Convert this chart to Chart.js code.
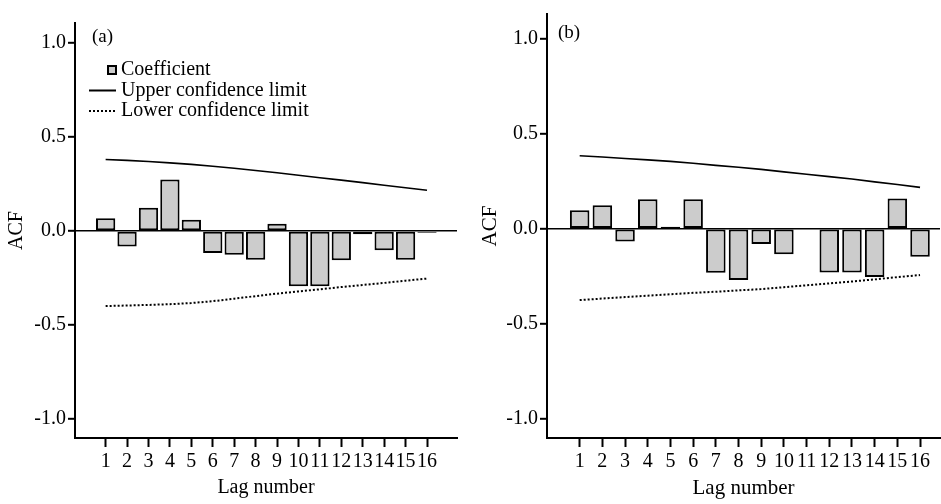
<!DOCTYPE html>
<html>
<head>
<meta charset="utf-8">
<script src="https://cdn.jsdelivr.net/npm/chart.js@4.4.1/dist/chart.umd.min.js"></script>
<style>
  html, body { margin: 0; padding: 0; background: #fff; }
  #wrap { position: relative; width: 941px; height: 504px; overflow: hidden; }
  canvas { position: absolute; top: 0; }
</style>
</head>
<body>
<div id="wrap">
  <canvas id="chartA" width="470" height="504" style="left:0;width:470px;height:504px"></canvas>
  <canvas id="chartB" width="471" height="504" style="left:470px;width:471px;height:504px"></canvas>
</div>
<script>
// ---- data ----
const lags = [1, 2, 3, 4, 5, 6, 7, 8, 9, 10, 11, 12, 13, 14, 15, 16];
const lagLabels = ['1','2','3','4','5','6','7','8','9','10','11','12','13','14','15','16'];
const yTickValues = [-1.0, -0.5, 0.0, 0.5, 1.0];

const acfA   = [0.068, -0.083, 0.124, 0.273, 0.060, -0.117, -0.126, -0.153, 0.039, -0.294, -0.294, -0.156, -0.018, -0.103, -0.153, -0.009];
const upperA = [0.380, 0.375, 0.369, 0.362, 0.354, 0.344, 0.333, 0.321, 0.309, 0.296, 0.283, 0.270, 0.257, 0.243, 0.230, 0.216];
const lowerA = [-0.399, -0.396, -0.393, -0.389, -0.383, -0.373, -0.360, -0.346, -0.333, -0.321, -0.310, -0.298, -0.287, -0.276, -0.264, -0.253];

const acfB   = [0.098, 0.124, -0.067, 0.155, 0.010, 0.155, -0.232, -0.270, -0.080, -0.134, null, -0.230, -0.230, -0.254, 0.160, -0.147];
const upperB = [0.385, 0.378, 0.370, 0.363, 0.355, 0.345, 0.334, 0.324, 0.313, 0.300, 0.287, 0.275, 0.262, 0.247, 0.233, 0.218];
const lowerB = [-0.376, -0.368, -0.360, -0.353, -0.345, -0.338, -0.332, -0.325, -0.318, -0.308, -0.298, -0.288, -0.278, -0.267, -0.255, -0.244];

const seriesNames = ['Coefficient', 'Upper confidence limit', 'Lower confidence limit'];

// ---- helpers ----
const FONT = "'Liberation Serif', 'Times New Roman', serif";

const annotatePlugin = {
  id: 'annotate',
  afterDraw(chart, args, opts) {
    const ctx = chart.ctx;
    ctx.save();
    ctx.fillStyle = '#000';
    ctx.textBaseline = 'middle';
    ctx.textAlign = 'left';
    if (opts.panel) {
      ctx.font = opts.panel.size + 'px ' + FONT;
      ctx.fillText(opts.panel.text, opts.panel.x, opts.panel.y);
    }
    if (opts.legend) {
      const L = opts.legend;
      ctx.font = L.size + 'px ' + FONT;
      const ds = chart.data.datasets;
      L.rows.forEach((row, i) => {
        const d = ds[row.index];
        const y = L.y + i * L.gap;
        if (row.kind === 'box') {
          ctx.fillStyle = d.backgroundColor;
          ctx.fillRect(L.boxX, y - L.box / 2, L.box, L.box);
          ctx.strokeStyle = d.borderColor;
          ctx.lineWidth = 2;
          ctx.strokeRect(L.boxX + 1, y - L.box / 2 + 1, L.box - 2, L.box - 2);
        } else {
          ctx.strokeStyle = d.borderColor;
          ctx.lineWidth = 2;
          ctx.setLineDash(d.borderDash || []);
          ctx.beginPath();
          ctx.moveTo(L.lineX0, y);
          ctx.lineTo(L.lineX1, y);
          ctx.stroke();
          ctx.setLineDash([]);
        }
        ctx.fillStyle = '#000';
        ctx.fillText(d.label, L.textX, y);
      });
    }
    ctx.restore();
  }
};

function makeChart(id, acf, upper, lower, cfg) {
  const pts = arr => lags.map((x, i) => ({ x: x, y: arr[i] }));
  return new Chart(document.getElementById(id), {
    type: 'bar',
    data: {
      datasets: [
        {
          type: 'bar', label: seriesNames[0], data: pts(acf), order: 2,
          backgroundColor: '#cccccc', borderColor: '#000000', borderWidth: 2,
          borderSkipped: false, barPercentage: cfg.barPct, categoryPercentage: 1.0
        },
        {
          type: 'line', label: seriesNames[1], data: pts(upper), order: 1,
          borderColor: '#000000', borderWidth: 1.6, pointRadius: 0, tension: 0, fill: false
        },
        {
          type: 'line', label: seriesNames[2], data: pts(lower), order: 0,
          borderColor: '#000000', borderWidth: 2, borderDash: [2, 2], pointRadius: 0, tension: 0, fill: false
        }
      ]
    },
    options: {
      responsive: false,
      animation: false,
      devicePixelRatio: 1,
      layout: { padding: { left: 0, right: cfg.padRight, top: cfg.padTop, bottom: 0 } },
      plugins: {
        legend: { display: false },
        tooltip: { enabled: false },
        annotate: cfg.annotate
      },
      scales: {
        x: {
          type: 'linear',
          offset: false,
          min: cfg.xMin, max: cfg.xMax,
          afterBuildTicks: s => { s.ticks = lags.map(v => ({ value: v })); },
          afterFit: s => { s.height = 66; },
          ticks: {
            autoSkip: false, maxRotation: 0, minRotation: 0, padding: 3,
            color: '#000', font: { family: FONT, size: cfg.tickSize },
            callback: v => { const i = lags.indexOf(v); return i >= 0 ? lagLabels[i] : ''; }
          },
          grid: {
            offset: false, drawOnChartArea: false, color: 'transparent',
            tickColor: '#000', tickLength: 9, tickWidth: 2
          },
          border: { display: true, color: '#000', width: 2 },
          title: {
            display: true, text: 'Lag number', color: '#000',
            font: { family: FONT, size: cfg.titleSize },
            padding: { top: 0, bottom: cfg.xTitlePad }
          }
        },
        y: {
          type: 'linear',
          min: cfg.yMin, max: cfg.yMax,
          afterBuildTicks: s => { s.ticks = yTickValues.map(v => ({ value: v })); },
          afterFit: s => { s.width = cfg.yWidth; },
          ticks: {
            padding: 2, color: '#000', font: { family: FONT, size: cfg.tickSize },
            callback: v => Number(v).toFixed(1)
          },
          grid: {
            color: c => (c.tick && c.tick.value === 0) ? '#000' : 'transparent',
            lineWidth: 1.6,
            tickColor: '#000', tickLength: 7, tickWidth: 2
          },
          border: { display: true, color: '#000', width: 2 },
          title: {
            display: true, text: 'ACF', color: '#000',
            font: { family: FONT, size: cfg.titleSize },
            padding: { top: cfg.yTitlePad, bottom: 0 }
          }
        }
      }
    },
    plugins: [annotatePlugin]
  });
}

makeChart('chartA', acfA, upperA, lowerA, {
  barPct: 0.9, padRight: 13, padTop: 23,
  xMin: -0.43, xMax: 17.4, yMin: -1.10, yMax: 1.105,
  yWidth: 75, tickSize: 20, titleSize: 20, xTitlePad: 4, yTitlePad: 5,
  annotate: {
    panel: { text: '(a)', x: 92, y: 37, size: 19 },
    legend: {
      size: 20, y: 70, gap: 20.5, box: 10, boxX: 107, lineX0: 89, lineX1: 116, textX: 121,
      rows: [ { index: 0, kind: 'box' }, { index: 1, kind: 'line' }, { index: 2, kind: 'line' } ]
    }
  }
});

makeChart('chartB', acfB, upperB, lowerB, {
  barPct: 0.86, padRight: 1, padTop: 5,
  xMin: -0.44, xMax: 16.88, yMin: -1.103, yMax: 1.132,
  yWidth: 77, tickSize: 20, titleSize: 21, xTitlePad: 3, yTitlePad: 8,
  annotate: {
    panel: { text: '(b)', x: 88, y: 33, size: 19 }
  }
});
</script>
</body>
</html>
